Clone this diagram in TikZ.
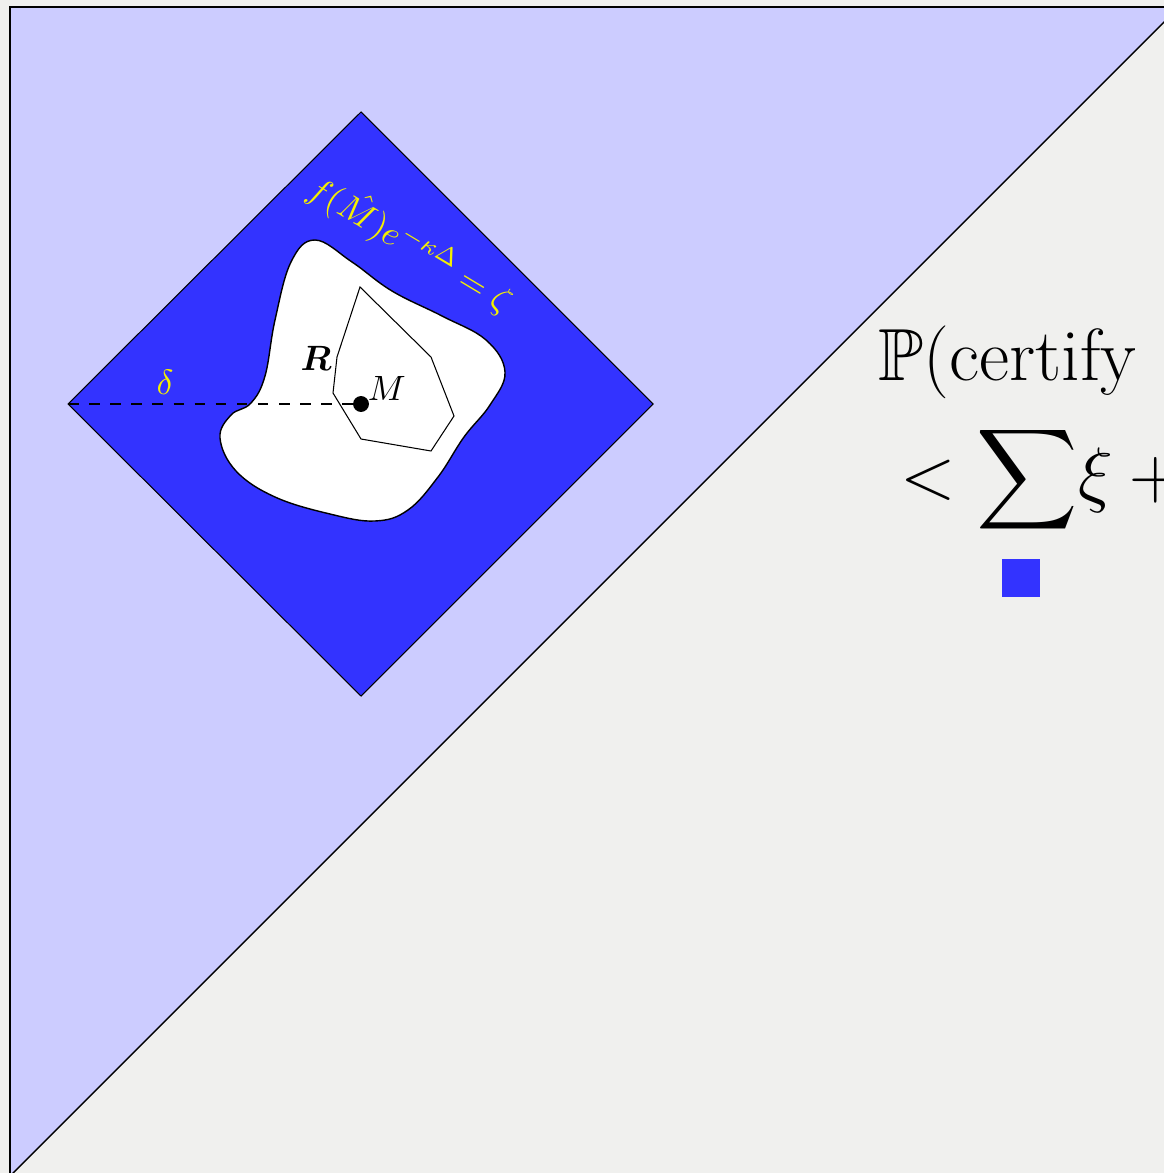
\documentclass[tikz,border=0pt]{standalone}
\usepackage{amsmath,amssymb}
\usepackage{tikz}
\usetikzlibrary{positioning,calc}
\definecolor{paper}{RGB}{240,240,238}
\definecolor{lav}{RGB}{204,204,255}
\definecolor{deepblue}{RGB}{51,51,255}
\definecolor{lblyellow}{RGB}{245,240,0}
\tikzset{
  region/.style ={draw=black,line width=0.3pt},
  dot/.style    ={circle,fill=black,inner sep=1.6pt},
  lbl/.style    ={font=\fontsize{10}{12}\selectfont,inner sep=1pt},
  ylbl/.style   ={lbl,text=lblyellow},
  bigtxt/.style ={font=\fontsize{21}{25}\selectfont,inner sep=0pt},
}
\begin{document}
\begin{tikzpicture}[x=0.01cm,y=-0.01cm]
  \useasboundingbox (0,0) rectangle (1164,1173);
  \clip (0,0) rectangle (1164,1173);
  \fill[paper] (0,0) rectangle (1164,1173);
  % half plane
  \fill[lav] (10,7) -- (1179,7) -- (10,1176) -- cycle;
  \draw[line width=0.45pt] (10,1176) -- (10,7) -- (1179,7);
  \draw[line width=0.4pt] (1179,7) -- (10,1176);
  % diamond
  \coordinate (dtop) at (361,112);
  \coordinate (dright) at (653,404);
  \coordinate (dbot) at (361,696);
  \coordinate (dleft) at (68,404);
  \filldraw[region,fill=deepblue] (dtop) -- (dright) -- (dbot) -- (dleft) -- cycle;
  % blob
  \filldraw[region,fill=white,line width=0.4pt] plot[smooth cycle,tension=0.65] coordinates {
    (315,240) (352,262) (392,291) (442,316) (486,340) (505,372) (490,405)
    (464,437) (438,477) (408,510) (375,521) (330,514) (275,497) (236,471)
    (220,438) (231,415) (251,403) (265,376) (275,320) (291,262)};
  % polytope
  \draw[region] (360,287) -- (431,357) -- (454,416) -- (431,451)
    -- (361,439) -- (333,393) -- (337,357) -- cycle;
  \node[dot] (M) at (361,404) {};
  \draw[dashed,line width=0.35pt] (dleft) -- (M.center);
  \node[lbl,above right=-2pt and -1pt of M] (Mlbl) {$M$};
  \node[lbl] (Rlbl) at (316,358) {$\boldsymbol{R}$};
  \node[ylbl] (dlbl) at (165,382) {$\delta$};
  \node[ylbl,rotate=-31] (flbl) at (411,244) {$f(\hat{M})e^{-\kappa\Delta}=\zeta$};
  % bound
  \node[bigtxt,anchor=base west] (prob) at (878,380) {$\mathbb{P}(\text{certify}$};
  \node[bigtxt,font=\fontsize{20}{24}\selectfont,anchor=base west] (bound) at (900,498) {$<\displaystyle\sum\!\xi+{}$};
  \node[fill=deepblue,minimum size=0.38cm,inner sep=0pt] (qed) at (1021,578) {};
\end{tikzpicture}
\end{document}
